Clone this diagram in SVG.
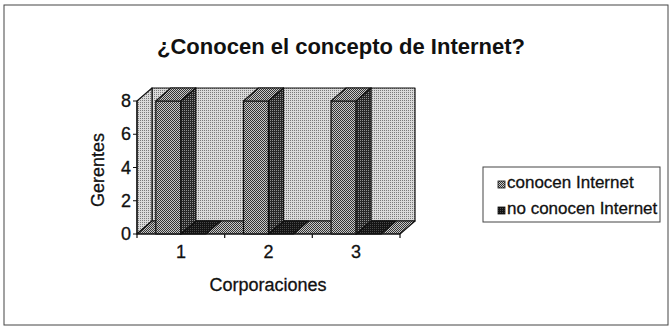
<svg xmlns="http://www.w3.org/2000/svg" width="672" height="328" viewBox="0 0 672 328">
<style>
text{font-family:"Liberation Sans",Arial,sans-serif;fill:#111}
.t{font-size:22px;font-weight:bold}
.lab{font-size:18px;stroke:#111;stroke-width:0.3}
.leg{font-size:17px;stroke:#111;stroke-width:0.3}
.edge{stroke:#111;stroke-width:1.2;stroke-linejoin:round}
</style>
<defs>
<pattern id="pWall" width="2" height="2" patternUnits="userSpaceOnUse"><rect width="2" height="2" fill="#dadada"/><rect width="1" height="1" fill="#7a7a7a"/></pattern>
<pattern id="pFront" width="2" height="2" patternUnits="userSpaceOnUse"><rect width="2" height="2" fill="#c8c8c8"/><rect width="1" height="1" fill="#333"/><rect x="1" y="1" width="1" height="1" fill="#333"/></pattern>
<pattern id="pSide" width="2" height="2" patternUnits="userSpaceOnUse"><rect width="2" height="2" fill="#262626"/><rect width="1" height="1" fill="#909090"/></pattern>
<pattern id="pSlab" width="2" height="2" patternUnits="userSpaceOnUse"><rect width="2" height="2" fill="#141414"/><rect width="1" height="1" fill="#484848"/></pattern>
</defs>
<rect x="4" y="5" width="664" height="320" fill="#fff" stroke="#444" stroke-width="1"/>
<text class="t" x="341" y="54" text-anchor="middle">¿Conocen el concepto de Internet?</text>
<g id="plot">
<polygon class="edge" points="152,88 415,88 415,221 152,221" fill="url(#pWall)"/>
<polygon class="edge" points="137,101 152,88 152,221 137,234" fill="url(#pWall)"/>
<polygon class="edge" points="137,234 400,234 415,221 152,221" fill="url(#pFront)"/>
</g>
<g id="series2">
<polygon class="edge" points="180.8,234 205.8,234 220.8,221 195.8,221" fill="url(#pSlab)"/>
<polygon class="edge" points="268.5,234 293.5,234 308.5,221 283.5,221" fill="url(#pSlab)"/>
<polygon class="edge" points="356.1,234 381.1,234 396.1,221 371.1,221" fill="url(#pSlab)"/>
</g>
<g id="series1">
<g id="bar1">
<rect class="edge" x="155.8" y="101" width="25" height="133" fill="url(#pFront)"/>
<polygon class="edge" points="155.8,101 180.8,101 195.8,88 170.8,88" fill="url(#pFront)"/>
<polygon class="edge" points="180.8,101 195.8,88 195.8,221 180.8,234" fill="url(#pSide)"/>
</g>
<g id="bar2">
<rect class="edge" x="243.5" y="101" width="25" height="133" fill="url(#pFront)"/>
<polygon class="edge" points="243.5,101 268.5,101 283.5,88 258.5,88" fill="url(#pFront)"/>
<polygon class="edge" points="268.5,101 283.5,88 283.5,221 268.5,234" fill="url(#pSide)"/>
</g>
<g id="bar3">
<rect class="edge" x="331.1" y="101" width="25" height="133" fill="url(#pFront)"/>
<polygon class="edge" points="331.1,101 356.1,101 371.1,88 346.1,88" fill="url(#pFront)"/>
<polygon class="edge" points="356.1,101 371.1,88 371.1,221 356.1,234" fill="url(#pSide)"/>
</g>
</g>
<g id="axes" stroke="#111" stroke-width="1.2" fill="none">
<line x1="137" y1="101" x2="137" y2="234"/>
<line x1="137" y1="234" x2="400" y2="234"/>
<path d="M133,101H137M133,134.25H137M133,167.5H137M133,200.75H137M133,234H137"/>
<path d="M137,234V238M224.7,234V238M312.3,234V238M400,234V238"/>
</g>
<g id="ylabels" class="lab" text-anchor="end">
<text x="131" y="107">8</text>
<text x="131" y="140">6</text>
<text x="131" y="173.5">4</text>
<text x="131" y="207">2</text>
<text x="131" y="240">0</text>
</g>
<g id="xlabels" class="lab" text-anchor="middle">
<text x="181" y="258">1</text>
<text x="268.5" y="258">2</text>
<text x="356" y="258">3</text>
</g>
<text class="lab" x="268" y="291" text-anchor="middle">Corporaciones</text>
<text class="lab" transform="translate(104,170) rotate(-90)" text-anchor="middle">Gerentes</text>
<g id="legend">
<rect x="483" y="167" width="177" height="55" fill="#fff" stroke="#444" stroke-width="1"/>
<rect x="498" y="181" width="7" height="7" fill="url(#pFront)" stroke="#111" stroke-width="0.8"/>
<text class="leg" x="507" y="188">conocen Internet</text>
<rect x="498" y="207" width="7" height="7" fill="url(#pSlab)" stroke="#111" stroke-width="0.8"/>
<text class="leg" x="507" y="214">no conocen Internet</text>
</g>
</svg>
